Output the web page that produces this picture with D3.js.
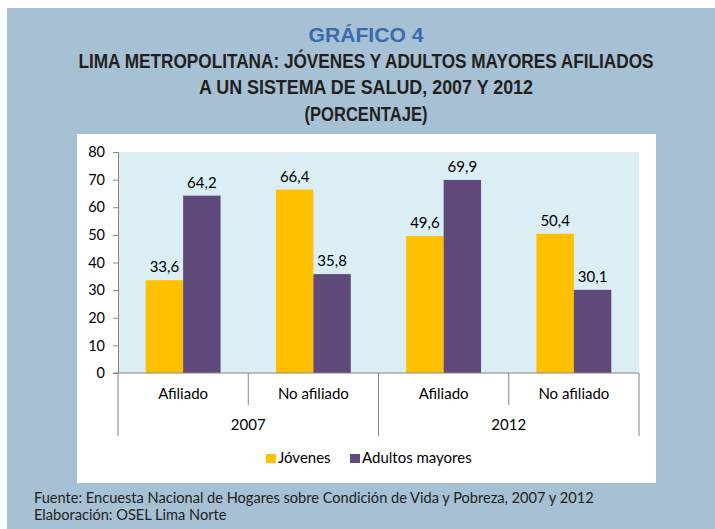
<!DOCTYPE html>
<html>
<head>
<meta charset="utf-8">
<script src="https://cdn.jsdelivr.net/npm/d3@7"></script>
<style>
  html, body { margin: 0; padding: 0; background: #fff; }
  svg { display: block; }
</style>
</head>
<body>
<div id="chart"></div>
<script>
// chart data
var years = ["2007", "2012"];
var groups = ["Afiliado", "No afiliado"];
var series = ["Jóvenes", "Adultos mayores"];
var jovenes = [33.6, 66.4, 49.6, 50.4];
var adultos = [64.2, 35.8, 69.9, 30.1];
var yTicks = [0, 10, 20, 30, 40, 50, 60, 70, 80];

var colors = ["#FFC000", "#604A7B"];
var W = 715, H = 529;
var bodyFont = "Lato, 'Open Sans', sans-serif";
var titleFont = "'Liberation Sans', Arial, sans-serif";

var cats = [];
years.forEach(function (yr) {
    groups.forEach(function (gr) { cats.push(yr + "|" + gr); });
});
var rows = cats.map(function (c, i) {
    return { cat: c, values: [jovenes[i], adultos[i]] };
});

var svg = d3.select("#chart").append("svg")
    .attr("width", W).attr("height", H);

// backgrounds
svg.append("rect").attr("x", 7).attr("y", 8).attr("width", W - 7).attr("height", H - 8).attr("fill", "#A6C0D4");
svg.append("rect").attr("x", 77).attr("y", 134).attr("width", 579).attr("height", 349).attr("fill", "#fff");

// titles (squeezed to look like the condensed face of the original)
var titles = [
    { t: "GRÁFICO 4", y: 42, w: 115, c: "#3A6AB0" },
    { t: "LIMA METROPOLITANA: JÓVENES Y ADULTOS MAYORES AFILIADOS", y: 68, w: 575, c: "#231F20" },
    { t: "A UN SISTEMA DE SALUD, 2007 Y 2012", y: 94, w: 334, c: "#231F20" },
    { t: "(PORCENTAJE)", y: 121, w: 123, c: "#231F20" }
];
svg.selectAll("text.title").data(titles).enter().append("text")
    .attr("class", "title")
    .attr("x", 366).attr("y", function (d) { return d.y; })
    .attr("text-anchor", "middle")
    .attr("font-family", titleFont).attr("font-weight", "bold").attr("font-size", 20)
    .attr("fill", function (d) { return d.c; })
    .attr("textLength", function (d) { return d.w; })
    .attr("lengthAdjust", "spacingAndGlyphs")
    .text(function (d) { return d.t; });

// plot area
var pL = 118, pR = 639, pT = 152, pB = 373;
var x0 = d3.scaleBand().domain(cats).range([pL, pR]);
var x1 = d3.scaleBand().domain(series).range([0, x0.bandwidth()]).paddingOuter(0.74);
var y = d3.scaleLinear().domain([0, 80]).range([pB, pT]);

svg.append("rect").attr("x", pL).attr("y", pT)
    .attr("width", pR - pL).attr("height", pB - pT).attr("fill", "#DAEEF3");

var fmt = d3.formatLocale({ decimal: ",", thousands: ".", grouping: [3], currency: ["", ""] }).format(".1f");

var g = svg.selectAll("g.cat").data(rows).enter().append("g")
    .attr("class", "cat")
    .attr("transform", function (d) { return "translate(" + x0(d.cat) + ",0)"; });
g.selectAll("rect").data(function (d) {
    return d.values.map(function (v, i) { return { s: series[i], v: v, i: i }; });
}).enter().append("rect")
    .attr("x", function (d) { return x1(d.s); })
    .attr("y", function (d) { return y(d.v); })
    .attr("width", x1.bandwidth())
    .attr("height", function (d) { return pB - y(d.v); })
    .attr("fill", function (d) { return colors[d.i]; });
g.selectAll("text").data(function (d) {
    return d.values.map(function (v, i) { return { s: series[i], v: v }; });
}).enter().append("text")
    .attr("x", function (d) { return x1(d.s) + x1.bandwidth() / 2; })
    .attr("y", function (d) { return y(d.v) - 8; })
    .attr("text-anchor", "middle")
    .attr("font-family", bodyFont).attr("font-size", 15).attr("fill", "#000")
    .text(function (d) { return fmt(d.v); });

// y axis
var yAxis = svg.append("g").attr("transform", "translate(" + pL + ",0)")
    .call(d3.axisLeft(y).tickValues(yTicks).tickSize(5).tickPadding(8));
yAxis.select(".domain").attr("stroke", "#868686");
yAxis.selectAll(".tick line").attr("stroke", "#868686");
yAxis.selectAll("text").attr("font-family", bodyFont).attr("font-size", 14.5).attr("fill", "#000");

// category axis
var axisCol = "#868686";
svg.append("line").attr("x1", pL - 5).attr("x2", pR).attr("y1", pB).attr("y2", pB)
    .attr("stroke", axisCol);
cats.forEach(function (c, i) {
    var xs = x0(c);
    var outer = i % groups.length === 0;
    svg.append("line").attr("x1", xs).attr("x2", xs).attr("y1", pB).attr("y2", outer ? 436 : 405)
        .attr("stroke", axisCol);
});
svg.append("line").attr("x1", pR).attr("x2", pR).attr("y1", pB).attr("y2", 436).attr("stroke", axisCol);

svg.selectAll("text.grp").data(cats).enter().append("text")
    .attr("class", "grp")
    .attr("x", function (d) { return x0(d) + x0.bandwidth() / 2; })
    .attr("y", 399)
    .attr("text-anchor", "middle")
    .attr("font-family", bodyFont).attr("font-size", 15).attr("fill", "#000")
    .text(function (d) { return d.split("|")[1]; });

svg.selectAll("text.yr").data(years).enter().append("text")
    .attr("class", "yr")
    .attr("x", function (d) { return x0(d + "|" + groups[0]) + x0.bandwidth(); })
    .attr("y", 430)
    .attr("text-anchor", "middle")
    .attr("font-family", bodyFont).attr("font-size", 15).attr("fill", "#000")
    .text(function (d) { return d; });

// legend
var legX = [266, 350];
var leg = svg.selectAll("g.leg").data(series).enter().append("g")
    .attr("class", "leg")
    .attr("transform", function (d, i) { return "translate(" + legX[i] + ",454)"; });
leg.append("rect").attr("width", 10).attr("height", 9)
    .attr("fill", function (d, i) { return colors[i]; });
leg.append("text").attr("x", 12).attr("y", 9)
    .attr("font-family", bodyFont).attr("font-size", 15).attr("fill", "#000")
    .text(function (d) { return d; });

// notes
var notes = [
    "Fuente: Encuesta Nacional de Hogares sobre Condición de Vida y Pobreza, 2007 y 2012",
    "Elaboración: OSEL Lima Norte"
];
svg.selectAll("text.note").data(notes).enter().append("text")
    .attr("class", "note")
    .attr("x", 34).attr("y", function (d, i) { return 503 + i * 17; })
    .attr("font-family", bodyFont).attr("font-size", 14.6).attr("fill", "#231F20")
    .text(function (d) { return d; });
</script>
</body>
</html>
